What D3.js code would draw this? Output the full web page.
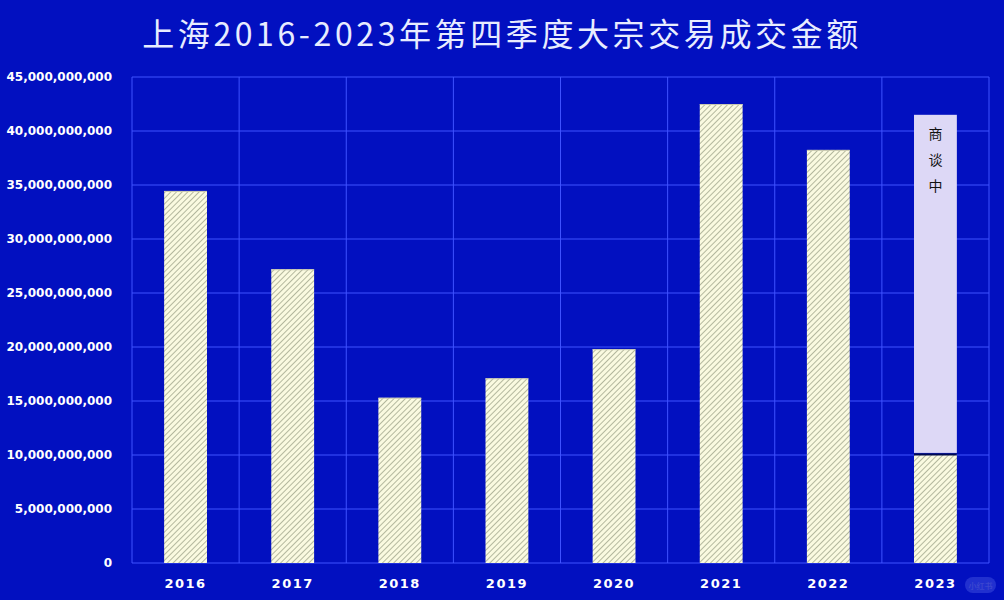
<!DOCTYPE html>
<html><head><meta charset="utf-8">
<script src="https://cdn.jsdelivr.net/npm/d3@7/dist/d3.min.js"></script>
<style>html,body{margin:0;padding:0;background:#0210c0;}svg{display:block;}</style>
</head><body>
<svg id="c" width="1004" height="600"></svg>
<script>
const title = "上海2016-2023年第四季度大宗交易成交金额";
const years = ["2016","2017","2018","2019","2020","2021","2022","2023"];
const dealt = [34450000000, 27200000000, 15300000000, 17100000000, 19800000000, 42500000000, 38250000000, 10100000000];
const negotiating = [0, 0, 0, 0, 0, 0, 0, 31400000000];
const negotiatingLabel = "商谈中";
const yTicks = [0,5e9,10e9,15e9,20e9,25e9,30e9,35e9,40e9,45e9];

const W=1004,H=600, m={l:132,r:15,t:77,b:37};
const svg=d3.select("#c");
svg.append("rect").attr("width",W).attr("height",H).attr("fill","#0210c0");
const defs=svg.append("defs");
const pat=defs.append("pattern").attr("id","hatch").attr("patternUnits","userSpaceOnUse")
  .attr("width",4).attr("height",4).attr("patternTransform","rotate(45)");
pat.append("rect").attr("width",4).attr("height",4).attr("fill","#fafae0");
pat.append("line").attr("x1",0).attr("y1",0).attr("x2",0).attr("y2",4).attr("stroke","#8e957a").attr("stroke-width",1.3);

const x=d3.scaleBand().domain(years).range([m.l,W-m.r]).paddingInner(0.6).paddingOuter(0.3);
const xb=d3.scaleBand().domain(years).range([m.l,W-m.r]);
const y=d3.scaleLinear().domain([0,45e9]).range([H-m.b,m.t]);

const grid=svg.append("g").attr("stroke","#3f52ff").attr("stroke-width",1);
yTicks.forEach(t=>grid.append("line").attr("x1",m.l).attr("x2",W-m.r).attr("y1",y(t)).attr("y2",y(t)));
years.forEach(yr=>grid.append("line").attr("x1",xb(yr)).attr("x2",xb(yr)).attr("y1",m.t).attr("y2",H-m.b));
grid.append("line").attr("x1",W-m.r).attr("x2",W-m.r).attr("y1",m.t).attr("y2",H-m.b);

// y axis labels
const ya=svg.append("g").attr("transform",`translate(${m.l-17},0)`)
  .call(d3.axisLeft(y).tickValues(yTicks).tickSize(0).tickFormat(d3.format(",")));
ya.select(".domain").remove();
ya.selectAll("text").attr("fill","#ffffff").attr("font-family","DejaVu Sans").attr("font-weight","bold").attr("font-size",12);

// x axis labels
const xa=svg.append("g").attr("transform",`translate(0,${H-m.b+13})`)
  .call(d3.axisBottom(xb).tickSize(0));
xa.select(".domain").remove();
xa.selectAll("text").attr("fill","#ffffff").attr("font-family","DejaVu Sans").attr("font-weight","bold").attr("font-size",13).attr("letter-spacing",1.5);

// bars
svg.append("g").selectAll("rect").data(years).join("rect")
  .attr("x",d=>x(d)).attr("width",x.bandwidth())
  .attr("y",(d,i)=>y(dealt[i])).attr("height",(d,i)=>y(0)-y(dealt[i]))
  .attr("fill","url(#hatch)");
// top edge lines
svg.append("g").selectAll("line").data(years).join("line")
  .attr("x1",d=>x(d)).attr("x2",d=>x(d)+x.bandwidth())
  .attr("y1",(d,i)=>y(dealt[i])+0.5).attr("y2",(d,i)=>y(dealt[i])+0.5)
  .attr("stroke",(d,i)=>negotiating[i]>0?"#000a50":"#c8c8b0").attr("stroke-width",(d,i)=>negotiating[i]>0?2:1);

// negotiating segment
const neg=svg.append("g");
years.forEach((yr,i)=>{
  if(negotiating[i]<=0) return;
  const top=y(dealt[i]+negotiating[i]), bot=y(dealt[i]);
  neg.append("rect").attr("x",x(yr)).attr("width",x.bandwidth()).attr("y",top).attr("height",bot-top-1).attr("fill","#ddd8f6");
  negotiatingLabel.split("").forEach((ch,k)=>{
    neg.append("text").attr("x",x(yr)+x.bandwidth()/2).attr("y",top+24+k*26)
      .attr("text-anchor","middle").attr("font-family","Noto Sans CJK SC").attr("font-size",14).attr("fill","#111").text(ch);
  });
});

// title
svg.append("text").attr("x",502).attr("y",46).attr("text-anchor","middle")
  .attr("font-family","Noto Sans CJK SC").attr("font-size",32).attr("letter-spacing",3.6)
  .attr("fill","#e8ecff").text(title);

// watermark
const wm=svg.append("g").attr("opacity",0.25);
wm.append("rect").attr("x",965).attr("y",577).attr("width",31).attr("height",16).attr("rx",8).attr("fill","#8090ff");
wm.append("text").attr("x",980.5).attr("y",588.5).attr("text-anchor","middle").attr("font-family","Noto Sans CJK SC").attr("font-size",8).attr("fill","#fff").text("小红书");
</script>
</body></html>
